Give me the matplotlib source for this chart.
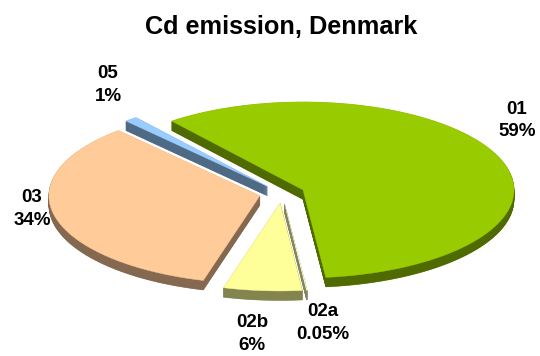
import numpy as np
import matplotlib
matplotlib.use('Agg')
import matplotlib.pyplot as plt
from matplotlib.patches import Polygon

plt.rcParams['font.family'] = ['Liberation Sans', 'DejaVu Sans']

# clockwise order, starting from the top left cut of the big slice
sectors = ['01', '02a', '02b', '03', '05']
shares = [59, 0.05, 6, 34, 1]
share_labels = ['59%', '0.05%', '6%', '34%', '1%']
top_colors = ['#99CC00', '#FFFFCC', '#FFFF99', '#FFCC99', '#99CCFF']
side_colors = ['#4F6A00', '#84845F', '#84844F', '#84684F', '#4F6A84']
label_x = [517, 323, 252, 32, 108]
label_y = [120.5, 323, 334, 209, 85]

# pie geometry, in pixels
cx, cy = 282, 193.5
rx, ry = 211, 88
explode = 22.7
depth = 9.5
start_angle = 128.5


def slice_outline(a0, a1):
    # apex plus rim of a slice going clockwise from a0 to a1 (degrees)
    mid = np.radians((a0 + a1) / 2)
    x0 = cx + explode * np.cos(mid)
    y0 = cy - explode * np.sin(mid) * ry / rx
    t = np.radians(np.linspace(a0, a1, max(int(abs(a1 - a0)) * 2, 2)))
    xs = np.r_[x0, x0 + rx * np.cos(t)]
    ys = np.r_[y0, y0 - ry * np.sin(t)]
    return np.column_stack([xs, ys])


fig = plt.figure(figsize=(5.4, 3.56), dpi=100)
ax = fig.add_axes([0, 0, 1, 1])
ax.set_xlim(0, 540)
ax.set_ylim(356, 0)
ax.axis('off')

fractions = np.array(shares) / sum(shares)
angles = start_angle - np.r_[0, np.cumsum(fractions)] * 360

# back slices first so the front ones sit over them
for i in [4, 0, 3, 2, 1]:
    pts = slice_outline(angles[i], angles[i + 1])
    # stack the outline downward for the side walls
    for d in np.arange(depth, 0, -0.5):
        ax.add_patch(Polygon(pts + [0, d], closed=True, fc=side_colors[i], ec=side_colors[i], lw=0.4))
    ax.add_patch(Polygon(pts, closed=True, fc=top_colors[i], ec=top_colors[i], lw=0.3))

for i, name in enumerate(sectors):
    ax.text(label_x[i], label_y[i], f'{name}\n{share_labels[i]}', ha='center', va='center',
            fontsize=13.5, fontweight='bold', color='black', linespacing=1.42)

ax.text(281, 27, 'Cd emission, Denmark', ha='center', va='center',
        fontsize=18.2, fontweight='bold', color='black')

fig.savefig('out.png', dpi=100, facecolor='white')
